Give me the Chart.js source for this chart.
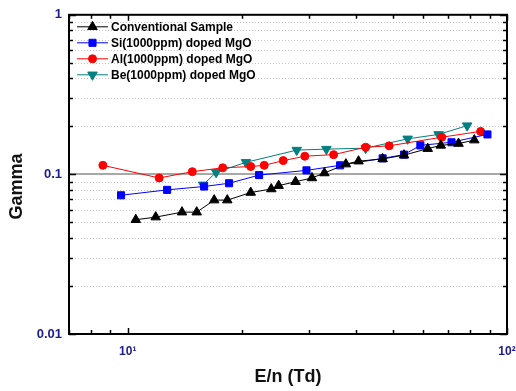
<!DOCTYPE html>
<html>
<head>
<meta charset="utf-8">
<script src="https://cdn.jsdelivr.net/npm/chart.js@4"></script>
<style>
  html, body { margin: 0; padding: 0; background: #fff; }
  #wrap { width: 516px; height: 391px; }
</style>
</head>
<body>
<div id="wrap"><canvas id="gammaChart"></canvas></div>
<script>
// Werte (E/n in Td, Gamma)
const convX = [10.5, 11.85, 13.9, 15.2, 16.9, 18.3, 21.1, 23.9, 25.0, 27.7, 30.6, 33.0, 37.6, 40.6, 47.0, 53.5, 61.8, 66.9, 74.5, 82.0];
const convY = [0.052, 0.054, 0.058, 0.058, 0.069, 0.069, 0.077, 0.081, 0.085, 0.090, 0.095, 0.102, 0.116, 0.121, 0.125, 0.132, 0.145, 0.152, 0.156, 0.164];

const siX = [9.6, 12.7, 15.9, 18.5, 22.2, 29.6, 36.3, 47.0, 53.5, 59.1, 71.4, 88.8];
const siY = [0.074, 0.080, 0.084, 0.088, 0.099, 0.106, 0.114, 0.126, 0.133, 0.152, 0.159, 0.178];

const alX = [8.6, 12.1, 14.8, 17.8, 21.1, 22.9, 25.7, 29.3, 34.9, 42.4, 48.9, 67.3, 85.2];
const alY = [0.114, 0.095, 0.104, 0.110, 0.112, 0.114, 0.122, 0.130, 0.133, 0.148, 0.151, 0.171, 0.186];

const beX = [15.8, 17.1, 20.5, 27.9, 33.4, 42.4, 54.7, 66.0, 78.5];
const beY = [0.086, 0.103, 0.119, 0.142, 0.144, 0.146, 0.167, 0.178, 0.202];

const seriesNames = ['Conventional Sample', 'Si(1000ppm) doped MgO', 'Al(1000ppm) doped MgO', 'Be(1000ppm) doped MgO'];

const xTickValues = [7, 8, 9, 10, 20, 30, 40, 50, 60, 70, 80, 90, 100];
const yTickValues = [0.01, 0.02, 0.03, 0.04, 0.05, 0.06, 0.07, 0.08, 0.09, 0.1, 0.2, 0.3, 0.4, 0.5, 0.6, 0.7, 0.8, 0.9, 1];
const yMajor = [0.01, 0.1, 1];
const xMajor = [10, 100];

const tickColor = '#1c1c8e';
const fontFamily = '"Liberation Sans", Arial, sans-serif';

function pts(xs, ys) {
    return xs.map((x, i) => ({ x: x, y: ys[i] }));
}
function isMajor(list, v) {
    return list.some(m => Math.abs(m - v) / m < 1e-6);
}

// Gitterlinien, Rahmen, Ticks nach innen, Y-Titel und Legende
const framePlugin = {
    id: 'frame',
    beforeDatasetsDraw(chart) {
        const { ctx, chartArea: a, scales: { y } } = chart;
        ctx.save();
        yTickValues.forEach(v => {
            if (isMajor(yMajor, v)) return;
            const py = Math.round(y.getPixelForValue(v)) + 0.5;
            ctx.strokeStyle = '#c4c4c4';
            ctx.lineWidth = 1;
            ctx.setLineDash([1, 2]);
            ctx.beginPath();
            ctx.moveTo(a.left, py);
            ctx.lineTo(a.right, py);
            ctx.stroke();
        });
        const p01 = Math.round(y.getPixelForValue(0.1));
        ctx.setLineDash([]);
        ctx.strokeStyle = '#a8a8a8';
        ctx.lineWidth = 2;
        ctx.beginPath();
        ctx.moveTo(a.left, p01);
        ctx.lineTo(a.right, p01);
        ctx.stroke();
        ctx.restore();
    },
    afterDatasetsDraw(chart) {
        const { ctx, chartArea: a, scales: { x, y } } = chart;
        ctx.save();
        ctx.strokeStyle = '#000';
        ctx.lineWidth = 1.5;
        yTickValues.forEach(v => {
            const py = Math.round(y.getPixelForValue(v)) + 0.5;
            const len = isMajor(yMajor, v) ? 7 : 4;
            ctx.beginPath();
            ctx.moveTo(a.left, py); ctx.lineTo(a.left + len, py);
            ctx.moveTo(a.right, py); ctx.lineTo(a.right - len, py);
            ctx.stroke();
        });
        xTickValues.forEach(v => {
            const px = Math.round(x.getPixelForValue(v)) + 0.5;
            const len = isMajor(xMajor, v) ? 6 : 4;
            ctx.beginPath();
            ctx.moveTo(px, a.bottom); ctx.lineTo(px, a.bottom - len);
            ctx.moveTo(px, a.top); ctx.lineTo(px, a.top + len);
            ctx.stroke();
        });
        ctx.lineWidth = 2;
        ctx.strokeRect(a.left, a.top, a.right - a.left, a.bottom - a.top);
        ctx.restore();
    },
    afterDraw(chart) {
        const { ctx, chartArea: a } = chart;
        ctx.save();
        // Y-Achsentitel, etwas unter der Mitte wie im Original
        ctx.translate(17, a.top + (a.bottom - a.top) / 2 + 12);
        ctx.rotate(-Math.PI / 2);
        ctx.font = 'bold 18px ' + fontFamily;
        ctx.fillStyle = '#111';
        ctx.textAlign = 'center';
        ctx.textBaseline = 'middle';
        ctx.fillText('Gamma', 0, 0);
        ctx.restore();

        ctx.save();
        ctx.font = 'bold 12px ' + fontFamily;
        ctx.textBaseline = 'middle';
        chart.data.datasets.forEach((ds, i) => {
            const ry = a.top + 12 + i * 16;
            const x0 = a.left + 8;
            ctx.strokeStyle = ds.borderColor;
            ctx.lineWidth = 1;
            ctx.beginPath();
            ctx.moveTo(x0, ry); ctx.lineTo(x0 + 31, ry);
            ctx.stroke();
            ctx.fillStyle = ds.pointBackgroundColor;
            ctx.strokeStyle = ds.pointBorderColor;
            Chart.helpers.drawPoint(ctx, {
                pointStyle: ds.pointStyle,
                radius: ds.pointRadius,
                rotation: ds.pointRotation || 0,
                borderWidth: 1
            }, x0 + 15.5, ry);
            ctx.fillStyle = '#000';
            ctx.fillText(ds.label, x0 + 34, ry + 0.5);
        });
        ctx.restore();
    }
};

function makeSet(label, data, color, style, radius, rotation) {
    return {
        label: label,
        data: data,
        borderColor: color,
        backgroundColor: color,
        borderWidth: 1,
        pointStyle: style,
        pointRadius: radius,
        pointRotation: rotation,
        pointBackgroundColor: color,
        pointBorderColor: color,
        pointBorderWidth: 1,
        tension: 0
    };
}

const ctx = document.getElementById('gammaChart');
new Chart(ctx, {
    type: 'line',
    data: {
        datasets: [
            makeSet(seriesNames[0], pts(convX, convY), '#000000', 'triangle', 5.5, 0),
            makeSet(seriesNames[1], pts(siX, siY), '#0000ff', 'rect', 5, 0),
            makeSet(seriesNames[2], pts(alX, alY), '#ff0000', 'circle', 4, 0),
            makeSet(seriesNames[3], pts(beX, beY), '#008080', 'triangle', 5.5, 180)
        ]
    },
    options: {
        responsive: true,
        maintainAspectRatio: false,
        animation: false,
        layout: { padding: { top: 13, right: 9, left: 0, bottom: 0 } },
        plugins: {
            legend: { display: false },
            tooltip: { enabled: false }
        },
        scales: {
            x: {
                type: 'logarithmic',
                min: 7,
                max: 100,
                afterBuildTicks: s => { s.ticks = xTickValues.map(v => ({ value: v })); },
                afterFit: s => { s.height = 57; s.paddingLeft = 0; s.paddingRight = 0; },
                grid: { display: false, drawTicks: false },
                border: { display: false },
                ticks: {
                    autoSkip: false,
                    maxRotation: 0,
                    padding: 10,
                    color: tickColor,
                    font: { family: fontFamily, size: 12, weight: 'bold' },
                    callback: v => (v === 10 ? '10\u00b9' : (v === 100 ? '10\u00b2' : ''))
                },
                title: {
                    display: true,
                    text: 'E/n (Td)',
                    color: '#111',
                    padding: { top: 0, bottom: 3 },
                    font: { family: fontFamily, size: 18, weight: 'bold' }
                }
            },
            y: {
                type: 'logarithmic',
                min: 0.01,
                max: 1,
                afterBuildTicks: s => { s.ticks = yTickValues.map(v => ({ value: v })); },
                afterFit: s => { s.width = 69; },
                grid: { display: false, drawTicks: false },
                border: { display: false },
                ticks: {
                    autoSkip: false,
                    padding: 7,
                    color: tickColor,
                    font: { family: fontFamily, size: 13, weight: 'bold' },
                    callback: v => (isMajor(yMajor, v) ? String(v) : '')
                },
                title: { display: false }
            }
        }
    },
    plugins: [framePlugin]
});
</script>
</body>
</html>
